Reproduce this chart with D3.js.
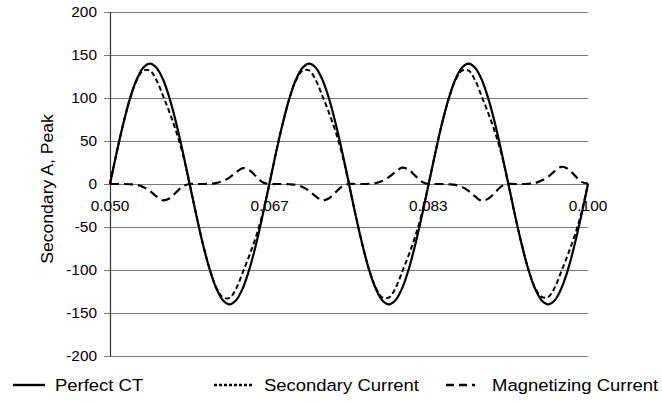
<!DOCTYPE html>
<html>
<head>
<meta charset="utf-8">
<script src="https://cdn.jsdelivr.net/npm/d3@7"></script>
<style>
  html, body { margin: 0; padding: 0; background: #fff; }
  svg { display: block; font-family: Arial, "Liberation Sans", sans-serif; }
</style>
</head>
<body>
<svg id="chart" width="662" height="402"></svg>
<script>
// ---- data (time in seconds, currents in A peak) ----
const times = [
  0.05000,0.05069,0.05139,0.05208,0.05278,0.05347,0.05417,0.05486,0.05556,0.05625,0.05694,0.05764,
  0.05833,0.05903,0.05972,0.06042,0.06111,0.06181,0.06250,0.06319,0.06389,0.06458,0.06528,0.06597,
  0.06667,0.06736,0.06806,0.06875,0.06944,0.07014,0.07083,0.07153,0.07222,0.07292,0.07361,0.07431,
  0.07500,0.07569,0.07639,0.07708,0.07778,0.07847,0.07917,0.07986,0.08056,0.08125,0.08194,0.08264,
  0.08333,0.08403,0.08472,0.08542,0.08611,0.08681,0.08750,0.08819,0.08889,0.08958,0.09028,0.09097,
  0.09167,0.09236,0.09306,0.09375,0.09444,0.09514,0.09583,0.09653,0.09722,0.09792,0.09861,0.09931,
  0.10000
];
const perfectCT = [
  0,36.2,70,99,121.2,135.2,140,135.2,121.2,99,70,36.2,0,-36.2,-70,-99,-121.2,-135.2,-140,-135.2,-121.2,-99,-70,-36.2,
  0,36.2,70,99,121.2,135.2,140,135.2,121.2,99,70,36.2,0,-36.2,-70,-99,-121.2,-135.2,-140,-135.2,-121.2,-99,-70,-36.2,
  0,36.2,70,99,121.2,135.2,140,135.2,121.2,99,70,36.2,0,-36.2,-70,-99,-121.2,-135.2,-140,-135.2,-121.2,-99,-70,-36.2,
  0
];
const secondaryCurrent = [
  0,36.2,70,98.7,120.2,131.7,132,120.7,102.2,82.5,60.5,33.7,0,-36.2,-70,-98.7,-120.2,-131.7,-132.5,-121.7,-102.7,-83,-61,-34.2,
  0,36.2,70,98.7,120.2,131.7,132,120.7,102.2,82.5,60.5,33.7,0,-36.2,-70,-98.7,-120.2,-131.7,-132,-121.2,-102.2,-82.5,-60.5,-33.7,
  0,36.2,70,98.7,120.2,131.7,132,120.7,101.7,82,60,33.7,0,-36.2,-70,-98.7,-120.2,-131.2,-131.5,-120.2,-101.2,-81.5,-60,-33.7,
  0.5
];
const magnetizingCurrent = [
  0,0,0,-0.3,-1,-3.5,-8,-14.5,-19,-16.5,-9.5,-2.5,0,0,0,0.3,1,3.5,7.5,13.5,18.5,16,9,2,
  0,0,0,-0.3,-1,-3.5,-8,-14.5,-19,-16.5,-9.5,-2.5,0,0,0,0.3,1,3.5,8,14,19,16.5,9.5,2.5,
  0,0,0,-0.3,-1,-3.5,-8,-14.5,-19.5,-17,-10,-2.5,0,0,0,0.3,1,4,8.5,15,20,17.5,10,2.5,
  0.5
];
const xTickValues = [0.05, 0.0667, 0.0833, 0.1];
const xTickLabels = ["0.050", "0.067", "0.083", "0.100"];
const yTickValues = [-200,-150,-100,-50,0,50,100,150,200];
const seriesNames = ["Perfect CT", "Secondary Current", "Magnetizing Current"];
const yTitle = "Secondary A, Peak";

// ---- layout ----
const svg = d3.select("#chart");
const x = d3.scaleLinear().domain([0.05, 0.1]).range([110, 588]);
const y = d3.scaleLinear().domain([-200, 200]).range([356, 12]);
const tickFont = 14;
const titleFont = 16;
const legendFont = 16.8;
const stretch = 1.1;

// gridlines
svg.append("g").selectAll("line").data(yTickValues).join("line")
  .attr("x1", 104).attr("x2", 588)
  .attr("y1", d => Math.round(y(d)) + 0.5).attr("y2", d => Math.round(y(d)) + 0.5)
  .attr("stroke", "#7a7a7a").attr("stroke-width", 1.2);

// y axis line
svg.append("line")
  .attr("x1", 110.5).attr("x2", 110.5).attr("y1", y(200)).attr("y2", y(-200) + 0.5)
  .attr("stroke", "#333").attr("stroke-width", 1.2);

// y tick labels
svg.append("g").selectAll("text").data(yTickValues).join("text")
  .attr("transform", d => `translate(97,${y(d)}) scale(${stretch},1)`)
  .attr("dy", "0.36em")
  .attr("text-anchor", "end").attr("font-size", tickFont).attr("fill", "#000")
  .text(d => d);

// x tick labels
svg.append("g").selectAll("text").data(xTickValues).join("text")
  .attr("transform", d => `translate(${x(d)},211) scale(${stretch},1)`)
  .attr("text-anchor", "middle").attr("font-size", tickFont).attr("fill", "#000")
  .text((d, i) => xTickLabels[i]);

// y title
svg.append("text")
  .attr("transform", `translate(53,189) rotate(-90) scale(${stretch},1)`)
  .attr("text-anchor", "middle").attr("font-size", titleFont).attr("fill", "#000")
  .text(yTitle);

// lines
const line = (vals) => d3.line()
  .x((d, i) => x(times[i])).y(d => y(d))
  .curve(d3.curveCatmullRom.alpha(0.5))(vals);

const styles = [
  { data: perfectCT, dash: null, width: 2.2 },
  { data: secondaryCurrent, dash: "5,3", width: 2 },
  { data: magnetizingCurrent, dash: "9,5", width: 2.2 }
];
[2, 1, 0].forEach(k => {
  svg.append("path")
    .attr("d", line(styles[k].data))
    .attr("fill", "none").attr("stroke", "#000")
    .attr("stroke-width", styles[k].width)
    .attr("stroke-dasharray", styles[k].dash);
});

// legend
const legendItems = [
  { lx: 13, len: 32, tx: 55, dash: null },
  { lx: 214, len: 38, tx: 264, dash: "3,2" },
  { lx: 446, len: 36, tx: 492, dash: "8,5,8,5,3" }
];
const lg = svg.append("g");
legendItems.forEach((it, i) => {
  lg.append("line")
    .attr("x1", it.lx).attr("x2", it.lx + it.len).attr("y1", 385).attr("y2", 385)
    .attr("stroke", "#000").attr("stroke-width", 2.4)
    .attr("stroke-dasharray", it.dash);
  lg.append("text")
    .attr("transform", `translate(${it.tx},391) scale(${stretch},1)`)
    .attr("font-size", legendFont).attr("fill", "#000")
    .text(seriesNames[i]);
});
</script>
</body>
</html>
